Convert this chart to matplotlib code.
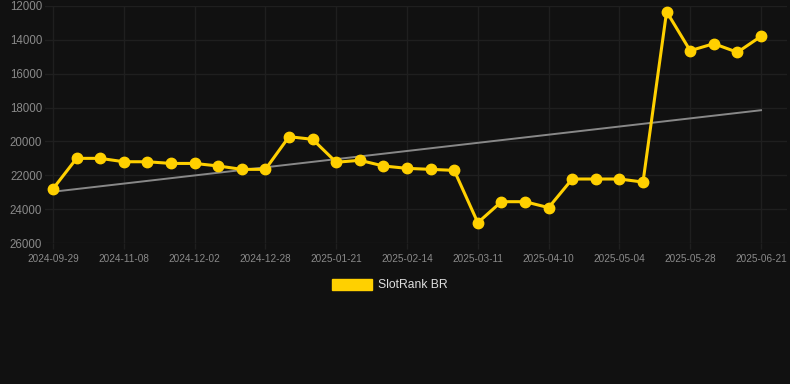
import numpy as np
import matplotlib
matplotlib.use('Agg')
from matplotlib import pyplot as plt
from matplotlib.patches import Patch

# rank values, one per week-ish sample (category axis)
ranks = [22800, 21000, 21000, 21200, 21200, 21300, 21300, 21450, 21650, 21650,
         19720, 19875, 21230, 21115, 21450, 21590, 21650, 21710, 24800, 23560,
         23560, 23910, 22220, 22220, 22220, 22400, 12335, 14640, 14225, 14735,
         13790]
tick_labels = ['2024-09-29', '2024-11-08', '2024-12-02', '2024-12-28', '2025-01-21',
               '2025-02-14', '2025-03-11', '2025-04-10', '2025-05-04', '2025-05-28',
               '2025-06-21']
y_ticks = [12000, 14000, 16000, 18000, 20000, 22000, 24000, 26000]
series_name = 'SlotRank BR'

bg = '#111111'
yellow = '#FFD000'
grid_c = '#1f1f1f'
txt_c = '#8a8a8a'

plt.rcParams['font.family'] = ['Liberation Sans', 'DejaVu Sans']

x = np.arange(len(ranks))
slope, icpt = np.polyfit(x, ranks, 1)
trend = slope * x + icpt

fig = plt.figure(figsize=(7.9, 3.84), dpi=100, facecolor=bg)
ax = fig.add_axes([45 / 790, 1 - 243 / 384, 742 / 790, 237 / 384])
ax.set_facecolor(bg)

ax.plot(x[[0, -1]], trend[[0, -1]], color='#888888', lw=1.4, zorder=2)
ax.plot(x, ranks, color=yellow, lw=2.2, marker='o', ms=7.5, zorder=3)

px_per = (761 - 53) / 30
ax.set_xlim(-(53 - 45) / px_per, 30 + (787 - 761) / px_per)
ax.set_ylim(26000, 12000)

ax.set_xticks(x[::3])
ax.set_xticklabels(tick_labels)
ax.set_yticks(y_ticks)
ax.set_yticklabels([str(v) for v in y_ticks])

ax.tick_params(axis='x', colors=grid_c, length=4, width=1, pad=4,
               labelsize=7.2, labelcolor=txt_c)
ax.tick_params(axis='y', length=0, pad=2, labelsize=8.3, labelcolor=txt_c)
ax.grid(True, color=grid_c, lw=1)
ax.set_axisbelow(True)
for s in ax.spines.values():
    s.set_visible(False)

leg = fig.legend(handles=[Patch(facecolor=yellow, edgecolor=yellow)], labels=[series_name],
                 loc='center', bbox_to_anchor=(390 / 790, 1 - 285 / 384),
                 frameon=False, fontsize=8.7, handlelength=3.3, handleheight=1.0,
                 handletextpad=0.5)
for t in leg.get_texts():
    t.set_color('#dddddd')

fig.savefig('out.png', dpi=100, facecolor=bg)
